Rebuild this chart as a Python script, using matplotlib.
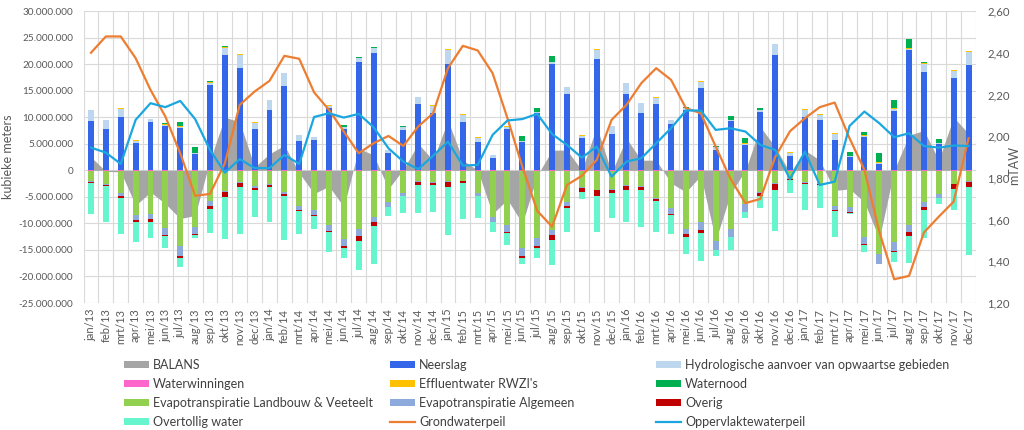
import numpy as np
import matplotlib
matplotlib.use("Agg")
import matplotlib.pyplot as plt
from matplotlib import font_manager
from matplotlib.ticker import FuncFormatter, FixedLocator
from matplotlib.patches import Patch
from matplotlib.lines import Line2D

plt.rcParams['font.family'] = ['Lato', 'DejaVu Sans']
_names = {f.name for f in font_manager.fontManager.ttflist}
NARROW = 'Liberation Sans Narrow' if 'Liberation Sans Narrow' in _names else None

months = ['jan', 'feb', 'mrt', 'apr', 'mei', 'jun', 'jul', 'aug', 'sep', 'okt', 'nov', 'dec']
labels = [f"{m}/{y}" for y in ['13', '14', '15', '16', '17'] for m in months]

# values in millions of m3
balans = [2.5, -0.2, -0.3, -6.6, -4.1, -6.3, -9.1, -8.5, 1.9, 10.0, 9.1, 0.6,
          3.1, 4.7, -0.5, -4.4, -3.0, -6.9, 4.1, 2.9, -3.5, 0.2, 5.0, 1.9,
          9.4, 1.9, 0.0, -8.2, -5.5, -10.0, -1.0, 3.8, 3.8, 0.0, 8.2, -0.4,
          6.0, 1.9, 1.9, -2.4, -4.1, -1.0, -13.2, -4.4, 0.0, 8.2, 4.4, -0.5,
          3.8, 1.9, -3.8, -3.5, -6.0, -12.9, 0.0, 6.6, 7.5, 1.9, 10.0, 6.9]
neerslag = [9.3, 7.85, 10.1, 5.15, 9.1, 8.3, 8.0, 3.1, 16.1, 21.7, 19.3, 7.7,
            11.4, 15.9, 5.5, 5.7, 11.8, 7.85, 20.4, 22.0, 3.3, 7.5, 12.4, 10.7,
            20.0, 9.1, 5.3, 2.4, 7.7, 5.3, 10.7, 20.1, 14.3, 6.1, 20.9, 6.9,
            14.4, 10.7, 12.4, 8.8, 11.4, 15.5, 3.9, 9.2, 4.8, 10.9, 21.8, 2.6,
            10.0, 9.4, 5.65, 2.5, 6.3, 1.25, 11.2, 22.6, 18.6, 4.9, 17.3, 19.8]
hydro = [2.0, 1.55, 1.5, 0.4, 0.5, 0.3, 0.2, 0.15, 0.4, 1.4, 2.5, 1.3,
         1.8, 2.4, 1.1, 0.5, 0.4, 0.25, 0.7, 1.0, 0.5, 0.6, 1.4, 1.5,
         2.7, 1.4, 0.85, 0.4, 0.5, 0.2, 0.2, 0.3, 1.3, 0.4, 1.8, 1.4,
         2.0, 1.9, 1.3, 0.6, 0.3, 1.2, 0.5, 0.2, 0.2, 0.4, 1.9, 0.7,
         1.4, 1.1, 1.25, 0.1, 0.2, 0.2, 0.4, 0.3, 1.5, 0.2, 1.4, 2.5]
effluent = [0.06, 0.04, 0.05, 0.08, 0.05, 0.06, 0.06, 0.1, 0.06, 0.05, 0.05, 0.05,
            0.05, 0.05, 0.05, 0.06, 0.06, 0.06, 0.06, 0.08, 0.06, 0.06, 0.08, 0.08,
            0.08, 0.06, 0.06, 0.06, 0.06, 0.06, 0.06, 0.06, 0.05, 0.06, 0.08, 0.06,
            0.08, 0.08, 0.08, 0.06, 0.06, 0.06, 0.06, 0.06, 0.06, 0.06, 0.08, 0.06,
            0.08, 0.06, 0.06, 0.06, 0.06, 0.1, 0.06, 0.06, 0.06, 0.06, 0.1, 0.15]
waternood = [0.0, 0.0, 0.0, 0.1, 0.0, 0.2, 0.9, 1.1, 0.3, 0.2, 0.05, 0.0,
             0.0, 0.0, 0.0, 0.0, 0.0, 0.4, 0.2, 0.1, 0.0, 0.1, 0.0, 0.0,
             0.0, 0.0, 0.0, 0.0, 0.1, 0.9, 0.7, 1.1, 0.0, 0.1, 0.0, 0.0,
             0.0, 0.0, 0.0, 0.1, 0.1, 0.1, 0.1, 0.8, 1.1, 0.3, 0.0, 0.0,
             0.0, 0.0, 0.0, 0.7, 0.6, 1.8, 1.6, 1.7, 0.3, 0.7, 0.0, 0.0]
waterwinningen = [0.05] * 60
evap_landbouw = [2.0, 2.6, 4.2, 8.3, 8.2, 10.8, 14.3, 10.7, 5.8, 3.9, 2.2, 3.0,
                 2.6, 4.1, 6.6, 7.5, 10.2, 12.9, 11.0, 8.7, 6.0, 4.3, 2.0, 2.2,
                 2.0, 1.9, 4.3, 8.7, 10.2, 14.6, 12.7, 11.2, 6.0, 3.1, 3.6, 3.5,
                 2.8, 3.0, 5.1, 7.1, 11.0, 9.7, 13.2, 11.0, 6.3, 4.1, 2.4, 1.5,
                 2.2, 2.5, 6.6, 6.9, 12.6, 15.8, 13.5, 10.2, 6.0, 4.4, 2.5, 2.0]
evap_algemeen = [0.1, 0.1, 0.5, 1.1, 1.0, 1.25, 1.7, 1.2, 0.8, 0.2, 0.1, 0.3,
                 0.1, 0.3, 0.8, 0.9, 1.2, 1.4, 1.3, 1.0, 0.8, 0.4, 0.1, 0.1,
                 0.1, 0.1, 0.4, 0.9, 1.4, 1.5, 1.6, 1.0, 0.6, 0.2, 0.1, 0.2,
                 0.1, 0.1, 0.3, 1.1, 0.9, 1.5, 1.7, 1.5, 1.5, 0.2, 0.1, 0.1,
                 0.1, 0.1, 0.8, 1.0, 1.2, 1.8, 1.6, 1.4, 0.8, 0.7, 0.1, 0.1]
overig = [0.3, 0.3, 0.4, 0.2, 0.4, 0.35, 0.4, 0.3, 0.7, 0.9, 0.8, 0.3,
          0.4, 0.3, 0.15, 0.15, 0.15, 0.2, 0.9, 0.8, 0.15, 0.15, 0.6, 0.5,
          1.0, 0.4, 0.15, 0.15, 0.15, 0.3, 0.2, 0.8, 0.5, 0.7, 1.1, 0.5,
          0.7, 0.5, 0.4, 0.1, 0.7, 0.5, 0.05, 0.1, 0.1, 0.4, 1.1, 0.2,
          0.3, 0.2, 0.15, 0.05, 0.15, 0.05, 0.15, 0.8, 0.7, 0.15, 0.8, 1.0]
overtollig = [5.75, 6.65, 6.9, 3.85, 3.05, 2.15, 1.85, 0.55, 4.45, 7.95, 8.9, 5.15,
              6.55, 8.45, 4.45, 2.4, 3.8, 2.05, 5.45, 7.05, 1.7, 3.1, 5.25, 4.95,
              9.05, 6.75, 4.0, 1.9, 2.3, 1.15, 1.95, 4.85, 4.55, 1.45, 6.75, 4.65,
              6.05, 7.05, 5.75, 3.7, 3.15, 5.35, 1.1, 2.45, 0.95, 2.35, 7.75, 2.45,
              4.75, 4.25, 5.0, 0.2, 1.3, 0.0, 2.0, 5.05, 5.15, 1.0, 3.95, 12.85]
grondwaterpeil = [2.40, 2.478, 2.478, 2.374, 2.222, 2.094, 1.918, 1.714, 1.723, 1.870, 2.150, 2.214,
                  2.265, 2.385, 2.371, 2.21, 2.126, 2.022, 1.918, 1.966, 2.001, 1.953, 2.046, 2.110,
                  2.326, 2.433, 2.411, 2.302, 2.086, 1.854, 1.642, 1.566, 1.766, 1.810, 1.886, 2.078,
                  2.150, 2.254, 2.326, 2.270, 2.134, 2.110, 1.950, 1.795, 1.679, 1.699, 1.900, 2.024,
                  2.086, 2.139, 2.161, 1.990, 1.838, 1.542, 1.314, 1.330, 1.538, 1.614, 1.686, 1.990]
oppervlaktewaterpeil = [1.945, 1.921, 1.867, 2.078, 2.158, 2.139, 2.169, 2.082, 1.934, 1.825, 1.890, 1.847,
                        1.847, 1.910, 1.867, 2.092, 2.110, 2.089, 2.107, 2.043, 1.942, 1.878, 1.842, 1.906,
                        1.974, 1.859, 1.862, 2.006, 2.075, 2.082, 2.107, 2.010, 1.958, 1.897, 1.950, 1.806,
                        1.878, 1.894, 1.966, 2.038, 2.123, 2.123, 2.030, 2.038, 2.022, 1.958, 1.934, 1.794,
                        1.926, 1.766, 1.782, 2.049, 2.118, 2.062, 1.995, 2.014, 1.953, 1.945, 1.955, 1.953]

C_BAL = '#A5A5A5'
C_NEER = '#3366E8'
C_HYD = '#BDD7EE'
C_WW = '#FF66CC'
C_EFF = '#FFC000'
C_WN = '#00B050'
C_EL = '#92D050'
C_EA = '#8EA9DB'
C_OV = '#C00000'
C_OT = '#66F5CC'
C_GW = '#ED7D31'
C_OW = '#1AA7E0'
TXT = '#595959'

M = 1e6
x = np.arange(len(labels))
W = 0.4

fig = plt.figure(figsize=(10.24, 4.30), dpi=100)
ax = fig.add_axes([0.0816, 0.2953, 0.8715, 0.6791])
ax2 = ax.twinx()

ax.set_xlim(-0.5, len(labels) - 0.5)
ax.set_ylim(-25 * M, 30 * M)
ax2.set_ylim(1.2, 2.6)

# gridlines
ax.set_yticks(np.arange(-25, 31, 5) * M)
ax.xaxis.set_minor_locator(FixedLocator(np.arange(-0.5, len(labels), 1.0)))
ax.grid(True, which='major', axis='y', color='#D9D9D9', lw=0.8, zorder=0)
ax.grid(True, which='minor', axis='x', color='#D9D9D9', lw=0.8, zorder=0)
ax.set_axisbelow(True)

# balance area
bal = np.array(balans) * M
ax.fill_between(x, 0, bal, color=C_BAL, lw=0, zorder=1)

# positive stack
pos_series = [(neerslag, C_NEER), (hydro, C_HYD), (effluent, C_EFF), (waternood, C_WN)]
bottom = np.zeros(len(x))
for vals, col in pos_series:
    v = np.array(vals) * M
    ax.bar(x, v, W, bottom=bottom, color=col, lw=0, zorder=2)
    bottom += v

neg_series = [(waterwinningen, C_WW), (evap_landbouw, C_EL), (evap_algemeen, C_EA),
              (overig, C_OV), (overtollig, C_OT)]
bottom = np.zeros(len(x))
for vals, col in neg_series:
    v = -np.array(vals) * M
    ax.bar(x, v, W, bottom=bottom, color=col, lw=0, zorder=2)
    bottom += v

ax2.plot(x, grondwaterpeil, color=C_GW, lw=1.6, zorder=3)
ax2.plot(x, oppervlaktewaterpeil, color=C_OW, lw=1.6, zorder=3)

ax.set_xticks(x)
ax.set_xticklabels(labels, rotation=90, fontsize=8, color=TXT)
ax.tick_params(axis='x', which='both', length=0, pad=4)
ax.yaxis.set_major_formatter(FuncFormatter(lambda v, p: f"{int(round(v)):,}".replace(',', '.')))
ax2.set_yticks(np.arange(1.2, 2.61, 0.2))
ax2.yaxis.set_major_formatter(FuncFormatter(lambda v, p: f"{v:.2f}".replace('.', ',')))
if NARROW:
    ax.tick_params(axis='y', length=0, labelsize=9, labelcolor=TXT, pad=7.5)
    for t in ax.get_yticklabels():
        t.set_family([NARROW, 'Lato'])
else:
    ax.tick_params(axis='y', length=0, labelsize=7.2, labelcolor=TXT, pad=7.5)
ax2.tick_params(axis='y', length=0, labelsize=8.2, labelcolor=TXT, pad=8)

for a in (ax, ax2):
    for s in a.spines.values():
        s.set_visible(False)

ax.set_ylabel('kubieke meters', fontsize=9, color=TXT)
ax.yaxis.set_label_coords(-0.078, 0.5)
ax2.set_ylabel('mTAW', fontsize=9, color=TXT)
ax2.yaxis.set_label_coords(1.036, 0.47)

# legends in three columns
def patch(c):
    return Patch(facecolor=c, edgecolor='none')

cols = [
    ([patch(C_BAL), patch(C_WW), patch(C_EL), patch(C_OT)],
     ['BALANS', 'Waterwinningen', 'Evapotranspiratie Landbouw & Veeteelt', 'Overtollig water'], 0.121),
    ([patch(C_NEER), patch(C_EFF), patch(C_EA), Line2D([], [], color=C_GW, lw=1.6)],
     ['Neerslag', "Effluentwater RWZI's", 'Evapotranspiratie Algemeen', 'Grondwaterpeil'], 0.381),
    ([patch(C_HYD), patch(C_WN), patch(C_OV), Line2D([], [], color=C_OW, lw=1.6)],
     ['Hydrologische aanvoer van opwaartse gebieden', 'Waternood', 'Overig', 'Oppervlaktewaterpeil'], 0.641),
]
for hs, ls, xpos in cols:
    fig.legend(hs, ls, loc='upper left', bbox_to_anchor=(xpos, 0.165), frameon=False,
               fontsize=9, handlelength=2.0, handleheight=0.5, handletextpad=0.3,
               labelspacing=0.56, borderpad=0, borderaxespad=0, labelcolor='#404040')

fig.savefig('out.png', dpi=100)
